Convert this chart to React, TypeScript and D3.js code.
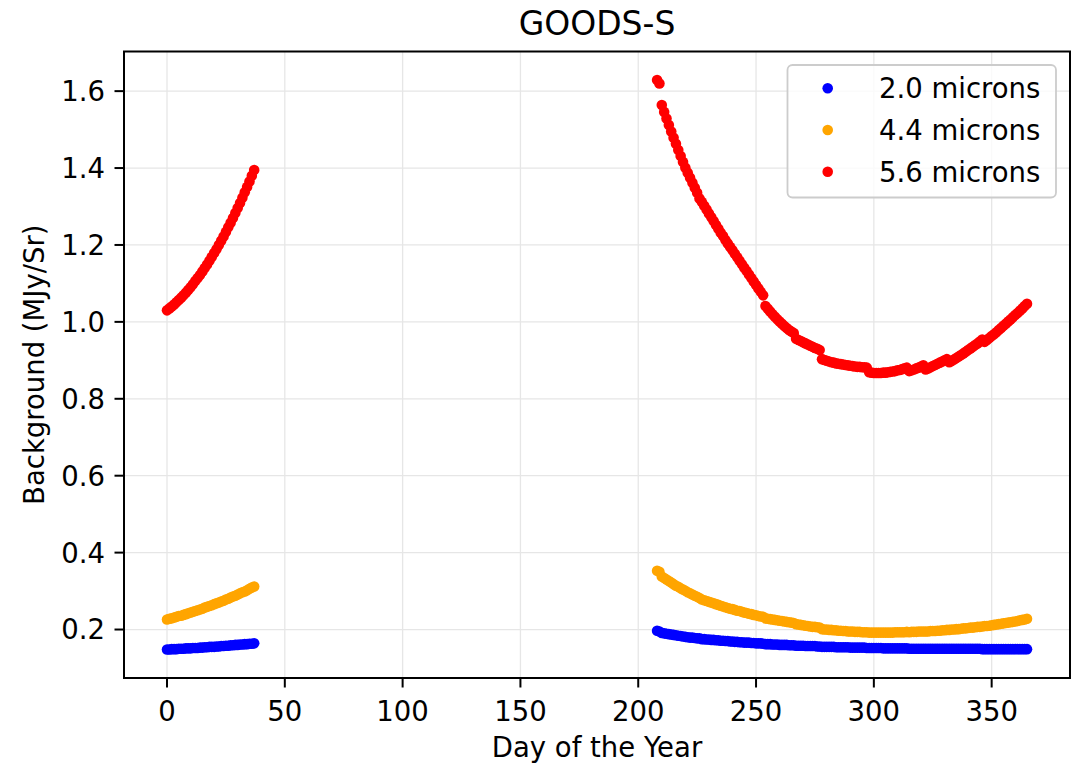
import React from "react";
import * as d3 from "d3";

const title = "GOODS-S";
const xLabel = "Day of the Year";
const yLabel = "Background (MJy/Sr)";
const xTicks = [0, 50, 100, 150, 200, 250, 300, 350];
const yTicks = [0.2, 0.4, 0.6, 0.8, 1.0, 1.2, 1.4, 1.6];

const daysEarly = d3.range(0, 38);
const daysLate = d3.range(208, 366);

const blueEarly = [0.148,0.148,0.149,0.149,0.149,0.150,0.150,0.150,0.151,0.151,0.151,0.152,0.152,0.152,0.153,0.153,0.154,0.154,0.155,0.155,0.155,0.156,0.156,0.157,0.157,0.158,0.158,0.159,0.159,0.160,0.160,0.161,0.161,0.162,0.162,0.163,0.163,0.164];
const orangeEarly = [0.226,0.228,0.229,0.231,0.233,0.235,0.236,0.238,0.240,0.242,0.244,0.246,0.248,0.250,0.252,0.254,0.257,0.259,0.261,0.263,0.266,0.268,0.270,0.273,0.275,0.278,0.280,0.283,0.286,0.288,0.291,0.294,0.297,0.299,0.302,0.306,0.309,0.312];
const redEarly = [1.030,1.035,1.040,1.045,1.051,1.057,1.063,1.069,1.076,1.083,1.090,1.098,1.106,1.114,1.122,1.131,1.140,1.149,1.159,1.169,1.179,1.189,1.200,1.211,1.222,1.234,1.246,1.258,1.270,1.283,1.296,1.309,1.323,1.337,1.351,1.365,1.380,1.395];

const blueLate = [
  0.197,0.195,0.191,0.190,0.189,0.188,0.187,0.186,0.185,0.184,
  0.183,0.182,0.181,0.180,0.179,0.179,0.178,0.177,0.177,0.175,
  0.175,0.174,0.174,0.173,0.173,0.172,0.172,0.171,0.171,0.170,
  0.170,0.169,0.169,0.168,0.168,0.167,0.167,0.166,0.166,0.166,
  0.165,0.165,0.164,0.164,0.164,0.163,0.162,0.162,0.162,0.161,
  0.161,0.161,0.160,0.160,0.160,0.160,0.159,0.159,0.159,0.158,
  0.158,0.158,0.158,0.157,0.157,0.157,0.157,0.157,0.156,0.156,
  0.155,0.155,0.155,0.155,0.155,0.155,0.154,0.154,0.154,0.154,
  0.154,0.154,0.153,0.153,0.153,0.153,0.153,0.153,0.153,0.152,
  0.152,0.152,0.152,0.152,0.152,0.152,0.151,0.151,0.151,0.151,
  0.151,0.151,0.151,0.151,0.151,0.151,0.151,0.150,0.150,0.150,
  0.150,0.150,0.150,0.150,0.150,0.150,0.150,0.150,0.150,0.150,
  0.150,0.150,0.150,0.150,0.150,0.150,0.150,0.150,0.150,0.150,
  0.150,0.150,0.150,0.150,0.150,0.150,0.150,0.150,0.149,0.149,
  0.149,0.149,0.149,0.149,0.149,0.149,0.149,0.149,0.149,0.149,
  0.149,0.149,0.149,0.149,0.149,0.149,0.149,0.149,
];
const orangeLate = [
  0.353,0.350,0.338,0.334,0.330,0.326,0.322,0.318,0.314,0.311,
  0.307,0.304,0.301,0.297,0.294,0.291,0.288,0.285,0.282,0.278,
  0.276,0.274,0.272,0.270,0.268,0.266,0.264,0.262,0.260,0.258,
  0.256,0.254,0.253,0.251,0.249,0.248,0.246,0.244,0.243,0.241,
  0.240,0.238,0.237,0.235,0.234,0.233,0.229,0.228,0.227,0.226,
  0.225,0.224,0.223,0.222,0.221,0.220,0.219,0.218,0.217,0.214,
  0.213,0.212,0.211,0.210,0.209,0.208,0.207,0.207,0.206,0.205,
  0.201,0.200,0.200,0.199,0.199,0.198,0.198,0.197,0.197,0.196,
  0.196,0.195,0.195,0.195,0.194,0.194,0.194,0.193,0.193,0.193,
  0.192,0.192,0.192,0.192,0.192,0.192,0.192,0.192,0.192,0.192,
  0.192,0.193,0.193,0.193,0.193,0.193,0.194,0.193,0.194,0.194,
  0.194,0.195,0.195,0.195,0.195,0.195,0.196,0.196,0.196,0.197,
  0.197,0.198,0.198,0.199,0.199,0.200,0.200,0.201,0.201,0.202,
  0.203,0.203,0.204,0.205,0.205,0.206,0.207,0.207,0.208,0.209,
  0.209,0.210,0.211,0.212,0.213,0.214,0.215,0.216,0.217,0.218,
  0.219,0.220,0.221,0.222,0.224,0.225,0.226,0.228,
];
const redLate = [
  1.629,1.620,1.564,1.546,1.529,1.512,1.495,1.479,1.463,1.447,
  1.431,1.416,1.401,1.388,1.375,1.362,1.349,1.336,1.321,1.312,
  1.302,1.292,1.282,1.272,1.262,1.252,1.242,1.232,1.223,1.213,
  1.204,1.195,1.186,1.177,1.168,1.159,1.150,1.141,1.132,1.123,
  1.114,1.105,1.096,1.087,1.078,1.069,1.041,1.034,1.027,1.020,
  1.013,1.007,1.001,0.995,0.989,0.984,0.979,0.975,0.971,0.956,
  0.953,0.950,0.947,0.944,0.941,0.938,0.935,0.932,0.930,0.927,
  0.903,0.901,0.899,0.897,0.895,0.894,0.892,0.891,0.890,0.889,
  0.888,0.887,0.886,0.885,0.884,0.883,0.883,0.882,0.882,0.881,
  0.869,0.868,0.867,0.867,0.867,0.867,0.868,0.868,0.869,0.870,
  0.871,0.872,0.874,0.875,0.877,0.879,0.881,0.872,0.874,0.876,
  0.879,0.881,0.884,0.887,0.876,0.879,0.882,0.885,0.888,0.891,
  0.894,0.897,0.900,0.903,0.895,0.898,0.902,0.906,0.910,0.914,
  0.918,0.922,0.927,0.931,0.935,0.940,0.944,0.949,0.954,0.948,
  0.953,0.958,0.963,0.968,0.973,0.979,0.984,0.990,0.995,1.001,
  1.006,1.012,1.018,1.023,1.029,1.035,1.041,1.047,
];

const seriesNames = ["2.0 microns", "4.4 microns", "5.6 microns"];
const seriesColors = ["#0000ff", "#ffa500", "#ff0000"];

const W = 1086;
const H = 767;
const M = { left: 124, right: 1070, top: 51.5, bottom: 678 };
const FONT = "'DejaVu Sans', sans-serif";

export default function App() {
  const series = [
    { name: seriesNames[0], color: seriesColors[0], early: blueEarly, late: blueLate },
    { name: seriesNames[1], color: seriesColors[1], early: orangeEarly, late: orangeLate },
    { name: seriesNames[2], color: seriesColors[2], early: redEarly, late: redLate },
  ];
  const allDays = [...daysEarly, ...daysLate];
  const allVals = series.flatMap((s) => [...s.early, ...s.late]);
  const xMin = d3.min(allDays)!, xMax = d3.max(allDays)!;
  const yMin = d3.min(allVals)!, yMax = d3.max(allVals)!;
  const xPad = (xMax - xMin) * 0.05;
  const yPad = (yMax - yMin) * 0.05;
  const x = d3.scaleLinear().domain([xMin - xPad, xMax + xPad]).range([M.left, M.right]);
  const y = d3.scaleLinear().domain([yMin - yPad, yMax + yPad]).range([M.bottom, M.top]);

  const r = 5.3;
  const fs = 27.5;
  const tickLen = 9.5;

  const legX = 787.5, legY = 65, legW = 268.5, legH = 132.5;
  const legRowY = [88.3, 130, 171.7];

  return (
    <svg width={W} height={H} style={{ position: "absolute", left: 0, top: 0, background: "#fff" }} fontFamily={FONT}>
      <rect x={0} y={0} width={W} height={H} fill="#fff" />
      {/* grid */}
      <g stroke="#e6e6e6" strokeWidth={1.3}>
        {xTicks.map((t) => (
          <line key={"gx" + t} x1={x(t)} x2={x(t)} y1={M.top} y2={M.bottom} />
        ))}
        {yTicks.map((t) => (
          <line key={"gy" + t} x1={M.left} x2={M.right} y1={y(t)} y2={y(t)} />
        ))}
      </g>
      {/* data */}
      {series.map((s) => (
        <g key={s.name} fill={s.color}>
          {daysEarly.map((d, i) => (
            <circle key={"e" + d} cx={x(d)} cy={y(s.early[i])} r={r} />
          ))}
          {daysLate.map((d, i) => (
            <circle key={"l" + d} cx={x(d)} cy={y(s.late[i])} r={r} />
          ))}
        </g>
      ))}
      {/* spines */}
      <rect x={M.left} y={M.top} width={M.right - M.left} height={M.bottom - M.top} fill="none" stroke="#000" strokeWidth={2} />
      {/* x ticks */}
      <g>
        {xTicks.map((t) => (
          <g key={"tx" + t}>
            <line x1={x(t)} x2={x(t)} y1={M.bottom} y2={M.bottom + tickLen} stroke="#000" strokeWidth={2} />
            <text x={x(t)} y={721} textAnchor="middle" fontSize={fs} fill="#000">{t}</text>
          </g>
        ))}
      </g>
      {/* y ticks */}
      <g>
        {yTicks.map((t) => (
          <g key={"ty" + t}>
            <line x1={M.left - tickLen} x2={M.left} y1={y(t)} y2={y(t)} stroke="#000" strokeWidth={2} />
            <text x={105} y={y(t)} dy="0.36em" textAnchor="end" fontSize={fs} fill="#000">{t.toFixed(1)}</text>
          </g>
        ))}
      </g>
      {/* labels */}
      <text x={(M.left + M.right) / 2} y={757} textAnchor="middle" fontSize={fs} fill="#000">{xLabel}</text>
      <text transform={`translate(44,${(M.top + M.bottom) / 2}) rotate(-90)`} textAnchor="middle" fontSize={fs} fill="#000">{yLabel}</text>
      <text x={(M.left + M.right) / 2} y={35} textAnchor="middle" fontSize={33} fill="#000">{title}</text>
      {/* legend */}
      <rect x={legX} y={legY} width={legW} height={legH} rx={5} ry={5} fill="#fff" fillOpacity={0.8} stroke="#cccccc" strokeWidth={1.8} />
      {series.map((s, i) => (
        <g key={"leg" + s.name}>
          <circle cx={827.7} cy={legRowY[i]} r={r} fill={s.color} />
          <text x={879} y={legRowY[i]} dy="0.36em" fontSize={fs} fill="#000">{s.name}</text>
        </g>
      ))}
    </svg>
  );
}
